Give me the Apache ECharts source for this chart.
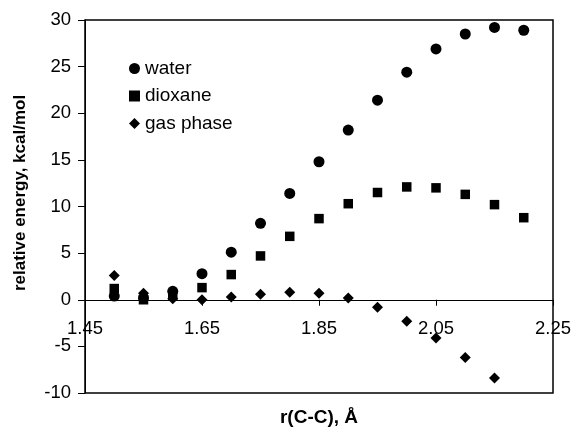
<!DOCTYPE html>
<html>
<head>
<meta charset="utf-8">
<script src="https://cdn.jsdelivr.net/npm/echarts@6/dist/echarts.min.js"></script>
<style>
html,body{margin:0;padding:0;background:#fff;}
#chart{width:574px;height:437px;}
</style>
</head>
<body>
<div id="chart"></div>
<script>
// r(C-C) values (Å)
const rValues = [1.50, 1.55, 1.60, 1.65, 1.70, 1.75, 1.80, 1.85, 1.90, 1.95, 2.00, 2.05, 2.10, 2.15, 2.20];
// relative energy, kcal/mol
const waterValues   = [0.4, 0.2, 0.9, 2.8, 5.1, 8.2, 11.4, 14.8, 18.2, 21.4, 24.4, 26.9, 28.5, 29.2, 28.9];
const dioxaneValues = [1.2, 0.0, 0.5, 1.3, 2.7, 4.7, 6.8, 8.7, 10.3, 11.5, 12.1, 12.0, 11.3, 10.2, 8.8];
const gasValues     = [2.6, 0.7, 0.1, 0.0, 0.3, 0.6, 0.8, 0.7, 0.2, -0.8, -2.3, -4.1, -6.2, -8.4];
const xTicks = [1.45, 1.65, 1.85, 2.05, 2.25];
const seriesNames = ['water', 'dioxane', 'gas phase'];

const pair = vals => vals.map((v, i) => [rValues[i], v]);
const font = 'Arial, "Liberation Sans", sans-serif';
const markStyle = {color: '#000', opacity: 1};

const chart = echarts.init(document.getElementById('chart'), null, {renderer: 'canvas'});
chart.setOption({
  animation: false,
  backgroundColor: '#fff',
  grid: {
    left: 85, right: 21, top: 20, bottom: 44,
    containLabel: false,
    outerBoundsMode: 'none',
    show: true, borderColor: '#000', borderWidth: 1.5, backgroundColor: 'transparent'
  },
  legend: {
    orient: 'vertical',
    left: 124, top: 54,
    itemWidth: 11, itemHeight: 11,
    itemGap: 8.5,
    itemStyle: {opacity: 1},
    data: [
      {name: seriesNames[0], icon: 'circle'},
      {name: seriesNames[1], icon: 'rect'},
      {name: seriesNames[2], icon: 'diamond'}
    ],
    textStyle: {fontFamily: font, fontSize: 19, color: '#000'}
  },
  xAxis: {
    type: 'value',
    min: 1.45, max: 2.25,
    name: 'r(C-C), Å',
    nameLocation: 'middle',
    nameGap: 15,
    nameTextStyle: {fontFamily: font, fontSize: 19, fontWeight: 'bold', color: '#000'},
    axisLine: {onZero: true, lineStyle: {color: '#000', width: 1}},
    axisTick: {show: true, length: 6, inside: false, customValues: xTicks, lineStyle: {color: '#000'}},
    axisLabel: {
      customValues: xTicks, margin: -73.5,
      fontFamily: font, fontSize: 18.5, color: '#000',
      formatter: v => v.toFixed(2)
    },
    splitLine: {show: false}
  },
  yAxis: {
    type: 'value',
    min: -10, max: 30, interval: 5,
    name: 'relative energy, kcal/mol',
    nameLocation: 'middle',
    nameGap: 56,
    nameTextStyle: {fontFamily: font, fontSize: 17, fontWeight: 'bold', color: '#000', padding: [0, 0, 0, 27]},
    axisLine: {show: true, onZero: false, lineStyle: {color: '#000', width: 1}},
    axisTick: {show: true, length: 7, inside: false, lineStyle: {color: '#000'}},
    axisLabel: {margin: 14, fontFamily: font, fontSize: 18.5, color: '#000'},
    splitLine: {show: false}
  },
  series: [
    {name: seriesNames[0], type: 'scatter', symbol: 'circle', symbolSize: 11,
     itemStyle: markStyle, data: pair(waterValues)},
    {name: seriesNames[1], type: 'scatter', symbol: 'rect', symbolSize: 9.5,
     itemStyle: markStyle, data: pair(dioxaneValues)},
    {name: seriesNames[2], type: 'scatter', symbol: 'diamond', symbolSize: [11, 11],
     itemStyle: markStyle, data: pair(gasValues)}
  ]
});
</script>
</body>
</html>
